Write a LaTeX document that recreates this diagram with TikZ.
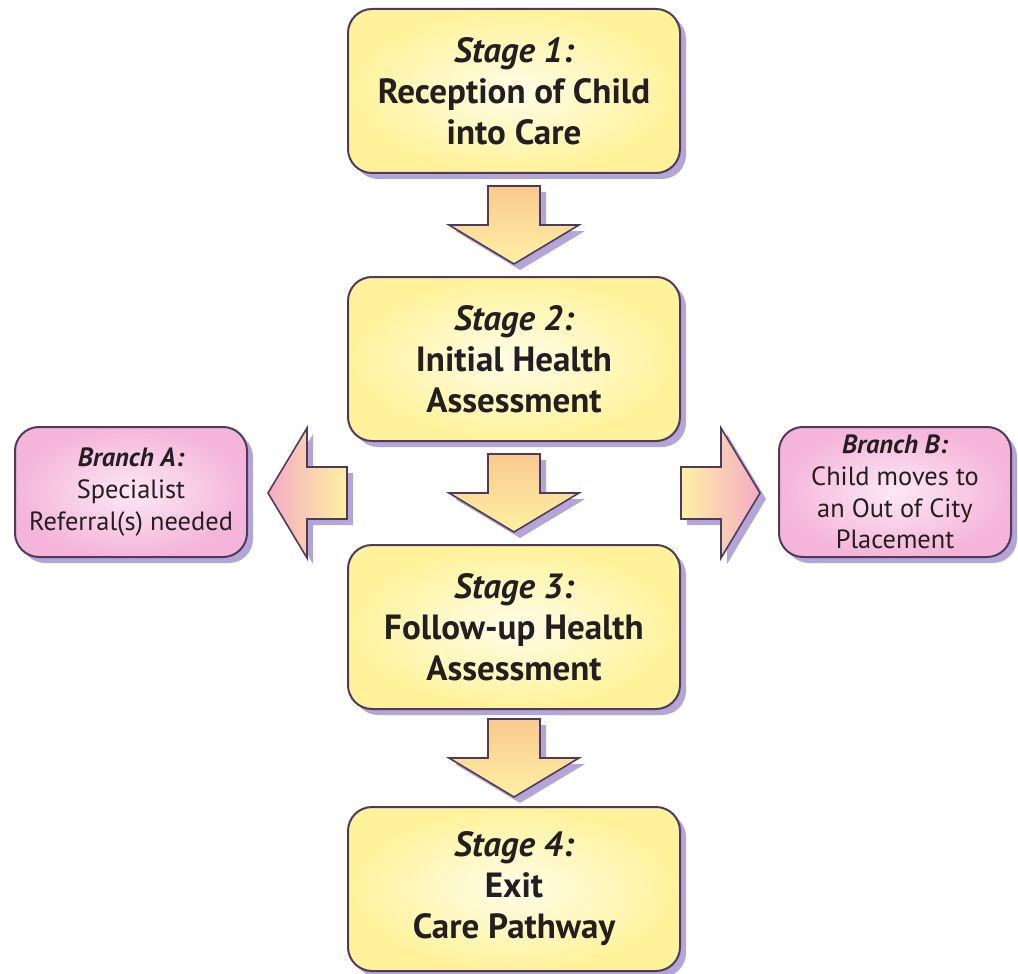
\documentclass[tikz,border=0pt]{standalone}
\usepackage{fontspec}
\setmainfont{PT Sans}
\usepackage{tikz}
\usetikzlibrary{calc,shadows}
\usepackage{xcolor}
\definecolor{stageyellow}{HTML}{FFF29A}
\definecolor{stagelight}{HTML}{FFFDE8}
\definecolor{branchpink}{HTML}{F5B5DB}
\definecolor{branchlight}{HTML}{FCE8F3}
\definecolor{edgeplum}{HTML}{4E3B5C}
\definecolor{shadowlilac}{HTML}{B3A5D8}
\definecolor{arroworange}{HTML}{F9C98E}
\definecolor{arrowyellow}{HTML}{FFF0A3}
\definecolor{arrowpink}{HTML}{F4ABC4}
\definecolor{inkgrey}{HTML}{231F20}

\begin{document}
\begin{tikzpicture}[
  x=0.5pt, y=-0.5pt,
  lilac shadow/.style={
    drop shadow={shadow xshift=3pt, shadow yshift=-3pt, fill=shadowlilac, opacity=1}
  },
  stagebox/.style={
    draw=edgeplum,
    line width=1pt,
    rounded corners=12pt,
    inner color=stagelight,
    outer color=stageyellow,
    lilac shadow,
    minimum width=166pt,
    minimum height=82pt,
    inner sep=4pt,
    align=center,
    text=inkgrey,
    font=\fontsize{17.5}{20.5}\selectfont\bfseries
  },
  branchbox/.style={
    draw=edgeplum,
    line width=1pt,
    rounded corners=12pt,
    inner color=branchlight,
    outer color=branchpink,
    lilac shadow,
    minimum width=116pt,
    minimum height=65pt,
    inner sep=2pt,
    align=center,
    text=inkgrey,
    font=\fontsize{13.2}{15.9}\selectfont
  },
  blockline/.style={draw=edgeplum, line width=0.8pt, lilac shadow},
  downblock/.pic={
    \path[blockline, top color=arroworange, bottom color=arrowyellow]
      (-26,-39) -- (26,-39) -- (26,0) -- (65,0) -- (0,39) -- (-65,0) -- (-26,0) -- cycle;
  },
  leftblock/.pic={
    \path[blockline, left color=arrowpink, right color=arrowyellow]
      (0,-26) -- (-40,-26) -- (-40,-65) -- (-79,0) -- (-40,65) -- (-40,26) -- (0,26) -- cycle;
  },
  rightblock/.pic={
    \path[blockline, left color=arrowyellow, right color=arrowpink]
      (0,-26) -- (40,-26) -- (40,-65) -- (79,0) -- (40,65) -- (40,26) -- (0,26) -- cycle;
  }
]

  \useasboundingbox (0,0) rectangle (1018,974);

  % Main stages
  \node[stagebox] (s1) at (514,91) {{\itshape Stage 1:}\\Reception of Child\\into Care};
  \node[stagebox] (s2) at (514,359) {{\itshape Stage 2:}\\Initial Health\\Assessment};
  \node[stagebox] (s3) at (514,627) {{\itshape Stage 3:}\\Follow-up Health\\Assessment};
  \node[stagebox] (s4) at (514,889) {{\itshape Stage 4:}\\Exit\\Care Pathway};

  % Side branches
  \node[branchbox] (brA) at (131,492) {{\bfseries\itshape Branch A:}\\Specialist\\Referral(s) needed};
  \node[branchbox] (brB) at (895,492) {{\bfseries\itshape Branch B:}\\Child moves to\\an Out of City\\Placement};

  % Block arrows between stages
  \coordinate (gap12) at ($(s1.south)!0.5!(s2.north)$);
  \coordinate (gap23) at ($(s2.south)!0.5!(s3.north)$);
  \coordinate (gap34) at ($(s3.south)!0.5!(s4.north)$);
  \pic at (gap12) {downblock};
  \pic at (gap23) {downblock};
  \pic at (gap34) {downblock};

  % Block arrows out to the branches
  \pic at (s2.west |- gap23) {leftblock};
  \pic at (s2.east |- gap23) {rightblock};

\end{tikzpicture}
\end{document}
